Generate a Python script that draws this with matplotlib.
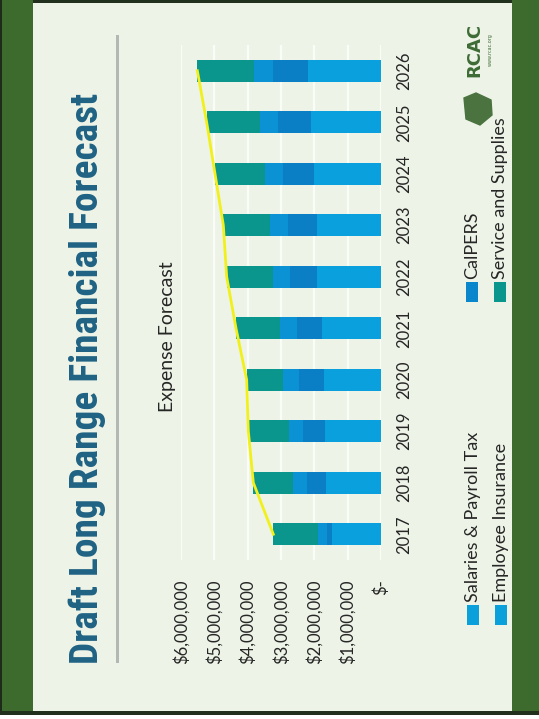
import numpy as np
import matplotlib
matplotlib.use('Agg')
import matplotlib.pyplot as plt
from matplotlib.patches import Rectangle, Polygon

# ---------- data (in $) ----------
years = [2017, 2018, 2019, 2020, 2021, 2022, 2023, 2024, 2025, 2026]
salaries = [1.48e6, 1.65e6, 1.68e6, 1.71e6, 1.76e6, 1.93e6, 1.93e6, 2.00e6, 2.10e6, 2.20e6]
calpers = [0.15e6, 0.56e6, 0.65e6, 0.74e6, 0.77e6, 0.80e6, 0.85e6, 0.93e6, 0.98e6, 1.05e6]
emp_ins = [0.25e6, 0.42e6, 0.42e6, 0.48e6, 0.50e6, 0.50e6, 0.55e6, 0.55e6, 0.55e6, 0.56e6]
services = [1.35e6, 1.20e6, 1.23e6, 1.10e6, 1.32e6, 1.40e6, 1.40e6, 1.50e6, 1.60e6, 1.70e6]

series_names = ['Salaries & Payroll Tax', 'CalPERS', 'Employee Insurance', 'Service and Supplies']
series_colors = ['#0a9fdd', '#0a7fc6', '#0a92d4', '#0a968c']
tick_vals = [0, 1e6, 2e6, 3e6, 4e6, 5e6, 6e6]
tick_text = ['$-', '$1,000,000', '$2,000,000', '$3,000,000', '$4,000,000', '$5,000,000', '$6,000,000']

W, H = 539, 719
BG = '#edf4e7'
GREEN = '#3d6b2d'
FONT = ['Lato', 'Open Sans', 'DejaVu Sans']

fig = plt.figure(figsize=(W / 100, H / 100), dpi=100)
fig.patch.set_facecolor(BG)


def box(x, y, w, h, **kw):
    # rectangle in pixel coords (y measured from the top)
    fig.add_artist(Rectangle((x / W, 1 - (y + h) / H), w / W, h / H,
                             transform=fig.transFigure, **kw))


def txt(x, y, s, **kw):
    return fig.text(x / W, 1 - y / H, s, rotation=90, **kw)


# ---------- slide frame ----------
box(0, 0, W, 3, color='#20301c', lw=0)
box(0, 0, 33, H, color=GREEN, lw=0)
box(0, 0, 2, H, color='#1e2a1a', lw=0)
box(512, 0, 27, H, color=GREEN, lw=0)
box(0, 711, W, 4, color='#20301c', lw=0)
box(0, 715, W, 4, color='white', lw=0)
box(116, 35, 3, 628, color='#b4b8b2', lw=0)

# ---------- chart (slide is turned on its side) ----------
ax = fig.add_axes([181 / W, 1 - 560 / H, 200 / W, 515 / H])
ax.set_facecolor('none')

layers = [salaries, calpers, emp_ins, services]
left = np.zeros(len(years))
for vals, col in zip(layers, series_colors):
    ax.barh(years, vals, left=left, height=0.42, color=col, zorder=2)
    left += np.array(vals)

ax.plot(left, years, color='#f2f01c', lw=2, zorder=3)

ax.set_xlim(6e6, 0)
ax.set_ylim(2016.5, 2026.5)
ax.set_xticks(tick_vals)
ax.set_xticklabels(tick_text, rotation=90, fontsize=12, color='#262626', family=FONT)
ax.tick_params(axis='x', length=0, pad=14)
ax.yaxis.tick_right()
ax.set_yticks(years)
ax.set_yticklabels([str(y) for y in years], rotation=90, va='center',
                   fontsize=12, color='#262626', family=FONT)
ax.tick_params(axis='y', length=0, pad=11)
ax.grid(axis='x', color='#fafdf7', lw=1.6, zorder=0)
for s in ax.spines.values():
    s.set_visible(False)

# ---------- titles ----------
title = txt(87, 378, 'Draft Long Range Financial Forecast', ha='center', va='center',
            fontsize=20, fontweight='bold', color='#1f6283',
            family=['Roboto Condensed', 'Liberation Sans', 'DejaVu Sans'])
# fit the title to its length on the slide (about 570 px)
fig.canvas.draw()
ext = title.get_window_extent()
title.set_fontsize(20 * 570 / ext.height)

txt(167, 337, 'Expense Forecast', ha='center', va='center',
    fontsize=14, color='#262626', family=FONT)

# ---------- legend ----------
leg = [(467, 605, 'Salaries & Payroll Tax'), (466, 282, 'CalPERS'),
       (495, 605, 'Employee Insurance'), (494, 282, 'Service and Supplies')]
leg_cols = ['#0aa0dc', '#0a86cc', '#0aa0dc', '#0a968c']
for (x, y, name), col in zip(leg, leg_cols):
    box(x, y, 12, 20, color=col, lw=0)
    txt(x + 6, y - 3, name, ha='center', va='bottom', fontsize=13,
        color='#262626', family=FONT)

# ---------- logo ----------
txt(474, 50, 'RCAC', ha='center', va='center', fontsize=13, fontweight='bold',
    color='#3d6b35', family=['DejaVu Sans'])
txt(490, 50, 'www.rcac.org', ha='center', va='center', fontsize=3.5,
    color='#3d6b35', family=['DejaVu Sans'])
hexa = np.array([[464, 98], [476, 93], [491, 100], [492, 115], [480, 125], [466, 119]])
fig.add_artist(Polygon(np.column_stack([hexa[:, 0] / W, 1 - hexa[:, 1] / H]),
                       closed=True, color='#4a7340', transform=fig.transFigure))

fig.savefig('out.png', dpi=100, facecolor=BG)
